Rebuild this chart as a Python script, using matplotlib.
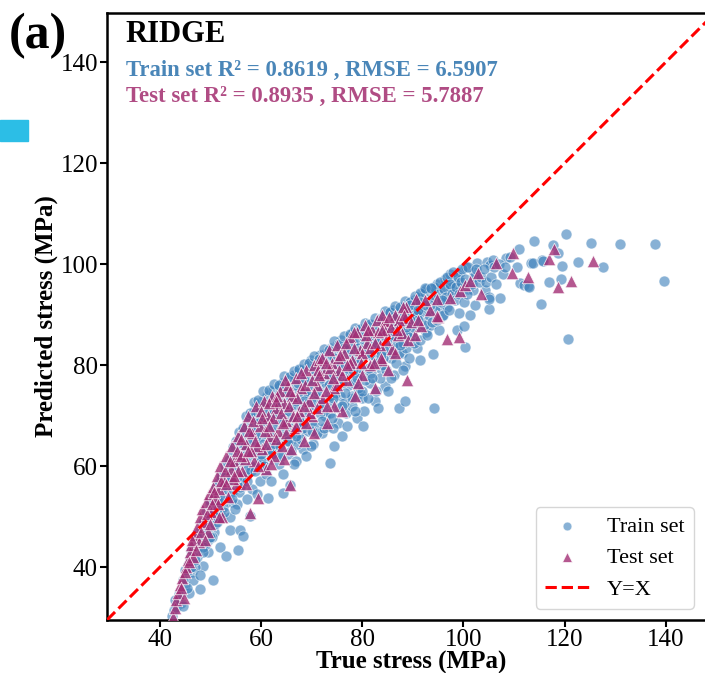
import matplotlib
matplotlib.use("Agg")
import matplotlib.pyplot as plt
from matplotlib.patches import Rectangle

plt.rcParams['font.family'] = ['Liberation Serif', 'DejaVu Serif']

# train set: true vs predicted stress (MPa)
train_true = [
    42.5, 42.9, 43.3, 43.6, 44.0, 44.3, 44.6, 45.0,
    45.3, 45.6, 46.0, 46.3, 46.7, 47.0, 46.5, 45.8,
    47.4, 47.8, 48.1, 48.5, 48.9, 47.9, 48.6, 49.2,
    49.5, 49.9, 50.2, 50.5, 50.8, 51.2, 50.5, 49.6,
    51.5, 51.8, 52.1, 52.4, 52.7, 53.0, 52.0, 53.2,
    53.4, 53.7, 54.0, 54.3, 54.6, 54.9, 53.8, 55.5,
    55.2, 55.5, 55.8, 56.1, 56.4, 56.7, 55.8, 56.5,
    57.0, 57.3, 57.6, 57.9, 58.2, 58.5, 57.8, 58.8,
    59.0, 59.3, 59.6, 59.9, 60.2, 60.5, 59.4, 60.8,
    61.0, 61.3, 61.6, 61.9, 62.2, 62.5, 61.4, 62.8,
    63.0, 63.3, 63.6, 63.9, 64.2, 64.5, 64.4, 65.0,
    65.3, 65.6, 65.9, 66.2, 66.5, 66.8, 65.7, 67.0,
    67.2, 67.5, 67.8, 68.1, 68.4, 68.7, 68.0, 69.0,
    69.3, 69.6, 69.9, 70.2, 70.5, 70.8, 70.0, 71.1,
    71.4, 71.7, 72.0, 72.3, 72.6, 72.9, 72.2, 73.2,
    73.6, 73.5, 73.8, 74.1, 74.4, 74.7, 74.0, 75.0,
    75.3, 75.6, 75.9, 76.2, 76.5, 76.8, 76.0, 77.1,
    77.4, 77.7, 78.0, 78.3, 78.6, 78.9, 78.2, 79.2,
    79.5, 79.8, 80.1, 80.4, 80.7, 81.0, 80.2, 81.3,
    81.6, 81.9, 82.2, 82.5, 82.8, 83.1, 82.0, 83.4,
    83.6, 83.9, 84.2, 84.5, 84.8, 85.1, 84.0, 85.4,
    85.7, 86.0, 86.3, 86.6, 86.9, 87.2, 86.1, 87.5,
    87.8, 88.1, 88.4, 88.7, 89.0, 89.3, 88.4, 89.6,
    89.9, 90.2, 90.5, 90.8, 91.1, 91.4, 91.0, 91.7,
    92.0, 92.3, 92.6, 92.9, 93.2, 93.5, 92.7, 93.8,
    94.0, 94.2, 94.5, 94.8, 95.1, 95.3, 95.7, 96.0,
    96.3, 96.7, 97.0, 97.4, 97.8, 98.0, 98.6, 98.8,
    99.1, 99.4, 99.8, 100.1, 100.3, 100.6, 101.0, 101.3,
    101.9, 102.3, 102.6, 104.2, 104.6, 105.0, 105.0, 105.2,
    105.9, 107.3, 108.5, 109.2, 110.5, 111.0, 111.1, 112.0,
    112.7, 113.0, 113.4, 113.8, 114.0, 115.4, 115.6, 115.8,
    116.9, 117.7, 118.7, 119.3, 119.4, 120.2, 120.6, 122.7,
    125.2, 127.6, 131.0, 137.8, 139.7, 97.3, 102.1, 105.1,
    # second pass through the dense band
    43.1, 43.9, 44.7, 45.1, 45.4, 46.1, 46.9, 47.2,
    47.6, 48.3, 48.0, 49.0, 49.4, 49.8, 50.1, 50.7,
    51.0, 51.4, 51.9, 52.3, 52.6, 53.1, 53.5, 53.9,
    54.2, 54.5, 54.8, 55.1, 55.4, 55.7, 56.0, 56.3,
    56.6, 56.9, 57.2, 57.5, 57.8, 58.1, 58.4, 58.7,
    58.9, 59.2, 59.5, 59.8, 60.1, 60.4, 60.7, 61.1,
    61.3, 61.7, 62.0, 62.4, 62.7, 63.1, 63.4, 63.8,
    64.1, 64.4, 64.8, 65.1, 65.5, 65.8, 66.1, 66.5,
    66.8, 67.1, 67.4, 67.7, 68.0, 68.3, 68.6, 68.9,
    69.2, 69.5, 69.8, 70.1, 70.4, 70.7, 71.0, 71.3,
    71.6, 71.9, 72.2, 72.5, 72.8, 73.1, 73.4, 73.7,
    74.0, 74.3, 74.6, 74.9, 75.2, 75.5, 75.8, 76.1,
    76.4, 76.7, 77.0, 77.3, 77.6, 77.9, 78.2, 78.5,
    78.8, 79.1, 79.4, 79.7, 80.0, 80.3, 80.6, 80.9,
    81.2, 81.5, 81.8, 82.1, 82.4, 82.7, 83.0, 83.3,
    83.6, 83.9, 84.2, 84.5, 84.8, 85.1, 85.4, 85.7,
    86.0, 86.3, 86.6, 86.9, 87.2, 87.5, 87.8, 88.1,
    88.4, 88.7, 89.0, 89.3, 89.6, 89.9, 90.2, 90.5,
    90.8, 91.1, 91.4, 91.7, 92.0, 92.3, 92.6, 92.9,
    93.2, 93.5, 93.8, 94.1, 94.4, 94.7, 95.0, 95.3,
    95.6, 95.9, 96.2, 96.5, 96.8, 97.1, 97.4, 97.7,
    98.0, 98.3, 98.6, 98.9, 99.2, 99.5, 99.8, 100.1,
    100.4, 100.7, 101.0, 101.6, 102.0, 102.5, 103.0, 103.5,
    104.0, 104.5, 105.5, 106.0, 106.5, 107.0, 107.8, 108.2,
    # upper edge and lower core of the band
    50.0, 50.9, 51.6, 52.2, 52.9, 53.6, 54.4, 55.0,
    55.7, 56.4, 57.1, 57.8, 58.6, 59.5, 60.5, 61.5,
    62.5, 63.5, 64.5, 65.5, 66.5, 67.5, 68.5, 69.5,
    70.5, 71.5, 72.5, 73.5, 74.5, 75.5, 76.5, 77.5,
    78.5, 79.5, 80.5, 81.5, 82.5, 83.5, 84.5, 85.5,
    86.5, 87.5, 88.5, 89.5, 90.5, 91.5, 92.5, 93.5,
    58.0, 60.0, 62.0, 64.0, 66.0, 68.0, 70.0, 72.0,
    74.0, 76.0, 78.0, 80.0, 82.0, 84.0, 86.0, 88.0,
    # third pass, core of the band
    48.6, 49.3, 50.3, 51.1, 51.7, 52.5, 53.3, 54.1,
    54.9, 55.6, 56.2, 56.9, 57.5, 58.3, 59.1, 59.7,
    60.3, 61.2, 61.9, 62.6, 63.2, 63.9, 64.6, 65.2,
    65.9, 66.6, 67.3, 68.0, 68.6, 69.3, 70.0, 70.6,
    71.3, 71.9, 72.6, 73.2, 73.9, 74.5, 75.2, 75.8,
    76.5, 77.1, 77.8, 78.4, 79.1, 79.7, 80.4, 81.0,
    81.7, 82.3, 83.0, 83.6, 84.3, 84.9, 85.6, 86.2,
    86.9, 87.5, 88.2, 88.8, 89.5, 90.1, 90.8, 91.4,
    60.0, 62.3, 64.7, 67.1, 69.5, 71.8, 74.2, 76.6,
    79.0, 81.4, 83.8, 86.2, 88.6, 91.0, 93.4, 95.8,
    46.2, 47.0, 48.5, 49.9, 51.4, 52.8, 54.3, 55.9,
    57.3, 58.9, 60.6, 62.1, 63.7, 65.3, 66.9, 68.4,
    56.0, 57.6, 59.1, 60.7, 62.3, 63.8, 65.4, 67.0,
    68.6, 70.2, 71.8, 73.4, 75.0, 76.6, 78.2, 79.8,
    81.4, 83.0, 84.6, 86.2, 87.8, 89.4, 91.0, 92.6,
]
train_pred = [
    30.3, 31.5, 32.2, 34.0, 35.2, 33.0, 32.4, 36.5,
    38.5, 40.5, 41.8, 39.0, 43.0, 44.5, 37.5, 35.0,
    42.0, 47.0, 45.0, 49.0, 47.5, 35.7, 40.2, 51.0,
    45.5, 52.5, 49.0, 54.0, 47.0, 56.0, 37.6, 43.0,
    52.0, 55.0, 57.5, 50.0, 54.5, 59.0, 44.0, 42.2,
    56.5, 60.5, 53.0, 62.5, 58.0, 64.0, 47.5, 43.4,
    52.5, 61.0, 65.0, 56.0, 67.0, 63.0, 47.5, 46.2,
    58.0, 68.5, 62.0, 70.0, 55.5, 65.5, 50.1, 71.2,
    60.0, 72.0, 67.5, 57.0, 73.0, 63.5, 69.5, 70.0,
    58.5, 74.0, 66.0, 61.5, 75.0, 69.5, 53.8, 72.5,
    64.0, 75.5, 60.5, 71.0, 76.5, 67.0, 54.8, 73.5,
    62.5, 77.0, 69.0, 65.5, 78.0, 71.5, 56.4, 61.0,
    74.5, 79.0, 66.5, 76.5, 63.5, 70.0, 72.5, 79.5,
    67.0, 75.0, 81.0, 64.5, 77.5, 71.5, 69.0, 80.0,
    73.5, 82.0, 66.5, 78.5, 70.0, 82.5, 75.5, 68.0,
    60.7, 79.0, 83.5, 72.5, 64.0, 80.5, 76.5, 84.0,
    68.5, 74.0, 85.0, 78.0, 82.0, 70.5, 66.0, 84.5,
    76.0, 86.0, 72.0, 80.5, 83.5, 69.5, 86.5, 78.0,
    74.5, 87.0, 82.5, 71.0, 85.0, 79.0, 67.9, 87.5,
    76.5, 84.0, 88.0, 73.0, 81.0, 71.6, 86.0, 88.5,
    79.5, 85.5, 89.5, 75.8, 83.0, 75.0, 87.5, 90.5,
    81.5, 88.0, 78.0, 90.0, 84.5, 71.6, 91.0, 86.5,
    82.5, 91.5, 79.8, 88.5, 85.5, 90.5, 73.0, 92.5,
    85.7, 93.0, 88.5, 83.5, 91.5, 81.0, 90.0, 94.0,
    89.0, 94.5, 86.5, 92.0, 94.6, 88.0, 90.5, 95.0,
    82.3, 71.6, 93.0, 96.0, 87.0, 91.5, 89.7, 95.5,
    97.0, 91.6, 93.5, 98.0, 95.5, 94.6, 96.9, 87.0,
    90.3, 98.5, 96.0, 87.7, 83.6, 99.5, 95.0, 90.0,
    94.9, 92.0, 100.2, 94.9, 100.5, 91.2, 93.6, 99.9,
    100.9, 93.4, 101.2, 101.5, 99.5, 103.0, 96.3, 95.9,
    95.6, 95.5, 100.2, 100.3, 104.5, 92.2, 100.9, 100.7,
    96.4, 103.8, 102.3, 97.1, 99.7, 106.0, 85.1, 100.5,
    104.2, 99.4, 103.9, 104.0, 96.7, 95.6, 98.4, 93.1,
    # second pass through the dense band
    33.5, 34.8, 37.5, 39.5, 36.0, 43.5, 40.0, 46.0,
    44.0, 46.5, 38.5, 44.5, 49.5, 48.0, 51.5, 50.5,
    48.5, 54.0, 50.5, 56.0, 52.0, 55.5, 58.5, 50.0,
    55.0, 60.0, 51.5, 58.5, 63.0, 55.0, 60.5, 64.5,
    58.0, 66.5, 53.5, 64.0, 67.5, 60.0, 69.5, 62.5,
    65.0, 54.5, 70.5, 61.5, 66.0, 72.0, 60.0, 68.0,
    63.0, 71.5, 57.0, 65.5, 73.5, 69.0, 62.5, 74.5,
    68.5, 58.5, 75.5, 65.0, 71.0, 74.0, 67.5, 60.5,
    76.0, 64.5, 69.0, 72.0, 78.0, 67.5, 74.5, 62.0,
    77.0, 72.5, 64.0, 79.5, 68.0, 74.0, 66.5, 77.0,
    70.5, 80.0, 72.0, 67.5, 76.5, 81.5, 74.0, 70.5,
    82.0, 67.5, 78.0, 74.5, 80.0, 71.5, 83.0, 76.5,
    72.5, 80.5, 68.0, 83.0, 78.5, 74.0, 84.5, 71.0,
    81.5, 75.5, 85.0, 79.5, 73.5, 84.0, 77.0, 86.0,
    73.5, 82.0, 78.5, 85.0, 80.0, 75.0, 87.0, 83.0,
    77.5, 88.5, 81.5, 86.0, 79.0, 84.5, 88.0, 77.5,
    84.0, 89.5, 80.5, 87.5, 82.5, 90.5, 86.0, 79.0,
    87.0, 83.5, 91.5, 81.5, 88.0, 90.0, 84.5, 92.0,
    87.5, 93.5, 85.0, 90.5, 92.5, 88.0, 95.0, 86.0,
    90.0, 93.0, 88.5, 95.5, 91.0, 89.0, 94.0, 96.5,
    92.5, 90.0, 95.0, 93.5, 97.5, 91.0, 96.0, 94.0,
    98.5, 93.0, 95.5, 97.5, 94.0, 96.5, 99.0, 92.5,
    97.0, 94.0, 99.5, 96.0, 97.5, 99.0, 96.5, 97.5,
    99.0, 96.5, 97.5, 99.5, 96.0, 100.0, 98.0, 99.5,
    # upper edge and lower core of the band
    53.2, 54.6, 56.8, 58.1, 60.3, 61.2, 63.8, 65.1,
    66.8, 67.6, 69.9, 70.6, 72.8, 73.2, 74.9, 75.2,
    76.3, 76.1, 77.8, 77.6, 78.9, 79.2, 80.3, 80.4,
    81.8, 81.2, 83.2, 83.1, 84.8, 84.2, 85.8, 86.2,
    87.3, 87.2, 88.3, 88.1, 89.3, 89.2, 90.8, 90.6,
    91.8, 91.6, 92.8, 92.6, 93.8, 94.2, 95.3, 95.2,
    59.0, 61.0, 63.5, 62.0, 63.0, 65.5, 67.0, 69.0,
    69.5, 72.0, 73.5, 75.0, 77.5, 80.0, 82.5, 84.5,
    # third pass, core of the band
    44.0, 47.0, 46.0, 50.0, 53.0, 53.5, 57.0, 57.5,
    60.0, 57.0, 62.5, 64.0, 59.5, 67.0, 63.0, 68.5,
    64.5, 70.5, 67.0, 70.5, 72.5, 65.5, 69.5, 74.5,
    72.0, 69.5, 76.5, 70.0, 77.0, 74.5, 72.5, 78.0,
    75.0, 77.5, 80.0, 78.0, 77.5, 81.5, 76.5, 80.5,
    83.5, 79.5, 82.5, 76.5, 83.5, 81.0, 85.5, 82.5,
    86.0, 83.0, 80.5, 85.5, 83.0, 88.0, 85.5, 87.5,
    89.5, 84.0, 90.0, 86.0, 92.0, 87.5, 90.0, 92.5,
    62.5, 64.5, 66.0, 67.5, 71.0, 72.5, 73.5, 74.5,
    77.5, 79.5, 82.0, 85.5, 87.5, 89.0, 92.0, 93.0,
    40.0, 41.5, 43.0, 46.0, 49.0, 51.0, 53.5, 56.0,
    57.0, 59.0, 60.0, 62.5, 64.0, 65.0, 66.0, 68.5,
    62.0, 65.0, 66.0, 69.0, 68.0, 72.0, 71.0, 73.0,
    73.0, 76.0, 79.0, 76.0, 78.0, 80.0, 79.0, 83.0,
    84.0, 84.5, 87.0, 86.0, 88.5, 89.0, 91.0, 92.0,
]

# test set
test_true = [
    42.6, 43.0, 43.3, 43.7, 44.0, 44.4, 44.8, 45.2,
    45.5, 45.9, 46.2, 46.6, 47.0, 47.3, 47.7, 48.0,
    48.4, 48.8, 49.1, 49.5, 49.8, 50.2, 50.5, 51.0,
    51.3, 51.7, 52.0, 52.4, 52.8, 53.1, 53.5, 54.0,
    54.3, 54.7, 55.0, 55.4, 55.8, 56.2, 56.6, 57.0,
    57.4, 57.8, 58.2, 58.6, 59.0, 59.4, 59.8, 60.2,
    60.6, 61.0, 61.4, 61.8, 62.2, 62.6, 63.0, 63.4,
    63.8, 64.2, 64.6, 65.0, 65.4, 65.7, 66.2, 66.6,
    67.0, 67.5, 68.0, 68.5, 69.0, 69.5, 70.0, 70.5,
    71.0, 71.5, 72.0, 72.5, 73.0, 73.5, 74.0, 74.5,
    75.0, 75.5, 76.0, 76.5, 77.0, 77.5, 78.0, 78.5,
    79.0, 79.5, 80.0, 80.5, 81.0, 81.5, 82.0, 82.5,
    83.0, 83.5, 84.0, 84.5, 85.1, 85.8, 86.4, 87.0,
    87.8, 88.4, 88.6, 88.8, 89.1, 90.4, 90.7, 91.7,
    93.4, 94.7, 95.0, 96.7, 97.3, 99.1, 99.3, 100.3,
    101.3, 102.8, 103.4, 106.4, 109.5, 109.7, 112.7, 116.9,
    117.9, 118.6, 121.2, 125.6, 84.5, 84.5, 83.8, 94.7,
    44.2, 45.0, 45.8, 46.4, 47.2, 48.2, 49.3, 50.0,
    50.8, 51.6, 52.2, 53.0, 53.8, 54.5, 55.2, 56.0,
    56.8, 57.6, 58.4, 59.2, 60.0, 60.8, 61.6, 62.4,
    63.2, 64.0, 64.8, 65.6, 66.4, 67.2, 68.0, 68.8,
    69.6, 70.4, 71.2, 72.0, 72.8, 73.6, 74.4, 75.2,
    76.0, 76.8, 77.6, 78.4, 79.2, 80.0, 80.8, 81.6,
    82.4, 83.2, 84.0, 84.8, 85.6, 86.4, 87.2, 88.0,
    61.0, 63.0, 65.0, 67.0, 69.0, 71.0, 73.0, 75.0,
    55.5, 57.0, 58.0, 59.5, 62.0, 64.5, 66.0, 70.5,
    49.0, 50.4, 51.8, 53.2, 54.6, 56.0, 57.4, 58.8,
    60.2, 61.6, 63.0, 64.4, 65.8, 67.2, 68.6, 70.0,
    71.4, 72.8, 74.2, 75.6, 77.0, 78.4, 79.8, 81.2,
    82.6, 84.0, 85.4, 86.8, 88.2, 89.6, 91.0, 92.4,
]
test_pred = [
    30.2, 32.0, 33.5, 35.0, 36.5, 38.0, 34.0, 40.0,
    41.5, 43.0, 44.5, 42.0, 46.5, 48.0, 45.0, 50.0,
    51.5, 49.0, 53.0, 47.0, 54.5, 51.0, 56.0, 53.5,
    58.0, 55.5, 60.0, 50.0, 57.0, 62.0, 54.0, 59.5,
    64.0, 61.0, 56.5, 66.0, 62.5, 59.0, 68.0, 64.5,
    70.0, 50.8, 66.5, 61.0, 72.0, 53.8, 68.0, 63.5,
    73.0, 59.5, 70.0, 66.0, 74.0, 62.0, 71.5, 67.0,
    75.0, 64.0, 72.5, 69.0, 76.0, 56.4, 74.0, 67.5,
    77.5, 71.0, 75.5, 65.0, 79.0, 73.0, 70.0, 80.0,
    76.0, 81.0, 73.5, 78.5, 68.5, 83.0, 80.5, 75.5,
    84.0, 79.0, 71.0, 82.5, 77.0, 85.5, 81.0, 74.0,
    86.5, 83.0, 78.0, 88.0, 84.5, 80.0, 87.0, 75.5,
    89.0, 84.0, 81.0, 88.7, 79.1, 83.2, 90.0, 86.0,
    86.4, 89.3, 91.6, 77.0, 84.9, 85.9, 93.1, 87.7,
    91.0, 93.1, 89.5, 85.2, 93.3, 85.6, 94.6, 95.9,
    96.6, 98.2, 94.0, 100.2, 98.2, 102.2, 97.5, 101.0,
    103.0, 95.5, 96.7, 100.7, 88.7, 86.7, 81.4, 89.7,
    36.0, 39.0, 41.0, 45.5, 43.5, 47.0, 50.5, 48.5,
    55.0, 52.5, 57.0, 59.0, 61.0, 57.5, 63.0, 65.5,
    61.5, 67.0, 69.0, 64.0, 71.0, 67.0, 72.5, 69.5,
    74.0, 70.5, 77.0, 72.0, 70.0, 73.5, 78.5, 76.0,
    70.5, 74.5, 79.0, 81.5, 75.0, 79.5, 72.0, 81.5,
    78.0, 84.5, 80.5, 86.5, 76.5, 82.5, 86.0, 83.5,
    80.5, 86.5, 90.0, 85.0, 87.5, 82.5, 89.0, 91.5,
    64.5, 65.5, 66.5, 68.0, 68.5, 71.5, 72.0, 76.0,
    59.0, 56.5, 63.0, 60.0, 60.5, 61.5, 63.5, 66.5,
    45.5, 52.5, 50.0, 56.5, 58.0, 62.0, 63.0, 65.0,
    69.5, 68.0, 73.0, 68.5, 75.0, 70.0, 72.0, 77.0,
    78.0, 80.5, 77.5, 82.0, 80.0, 83.5, 80.5, 87.0,
    84.5, 87.0, 89.5, 87.0, 90.0, 88.5, 89.0, 93.0,
]

model_name = "RIDGE"
train_score = "Train set R² = 0.8619 , RMSE = 6.5907"
test_score = "Test set R² = 0.8935 , RMSE = 5.7887"
lims = (29.6, 149.7)
ticks = [40, 60, 80, 100, 120, 140]

fig = plt.figure(figsize=(7.05, 6.73), dpi=100)
ax = fig.add_axes([0.1518, 0.0788, 0.8624, 0.9019])

ax.scatter(train_true, train_pred, s=62, marker='o', color='#3F82BC', alpha=0.62,
           edgecolors='white', linewidths=0.6, label='Train set', zorder=2)
ax.scatter(test_true, test_pred, s=80, marker='^', color='#A32E75', alpha=0.8,
           edgecolors='white', linewidths=0.6, label='Test set', zorder=3)
ax.plot(lims, lims, color='red', linestyle='--', linewidth=2.2, label='Y=X', zorder=4)

ax.set_xlim(lims)
ax.set_ylim(lims)
ax.set_xticks(ticks)
ax.set_yticks(ticks)
ax.tick_params(labelsize=18, width=1.5, length=5, pad=1.5)
for sp in ax.spines.values():
    sp.set_linewidth(1.8)

ax.set_xlabel('True stress (MPa)', fontsize=18, fontweight='bold', labelpad=0)
ax.set_ylabel('Predicted stress (MPa)', fontsize=18, fontweight='bold', labelpad=1.5)

ax.text(0.031, 0.964, model_name, transform=ax.transAxes, fontsize=22,
        fontweight='bold', ha='left', va='center')
ax.text(0.031, 0.906, train_score, transform=ax.transAxes, fontsize=16.4,
        fontweight='bold', color='#4A86B8', ha='left', va='center')
ax.text(0.031, 0.862, test_score, transform=ax.transAxes, fontsize=16.4,
        fontweight='bold', color='#B04C84', ha='left', va='center')

leg = ax.legend(loc='lower right', fontsize=16, bbox_to_anchor=(0.983, 0.0),
                markerscale=0.8)

fig.text(0.012, 0.946, '(a)', fontsize=36, fontweight='bold', ha='left', va='center')
fig.patches.append(Rectangle((0, 1 - 141 / 673), 28 / 705, 21 / 673,
                             transform=fig.transFigure, color='#2CBEE6'))

fig.savefig('out.png', dpi=100)
